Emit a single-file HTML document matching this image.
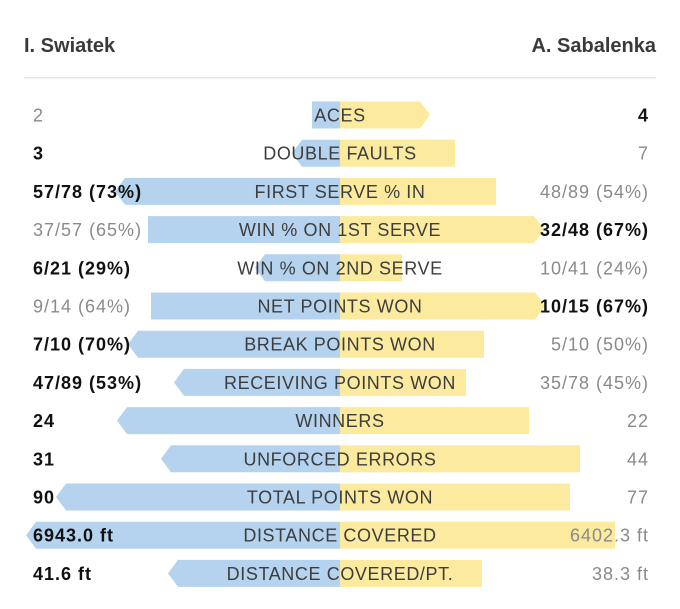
<!DOCTYPE html>
<html><head><meta charset="utf-8"><style>
html,body{margin:0;padding:0;background:#fff;}
svg{display:block;font-family:"Liberation Sans",sans-serif;}
</style></head><body>
<svg width="680" height="609" viewBox="0 0 680 609" xmlns="http://www.w3.org/2000/svg">
<text x="24" y="52" font-size="20" font-weight="bold" fill="#3a3a3a">I. Swiatek</text>
<text x="656" y="52" font-size="20" font-weight="bold" fill="#3a3a3a" text-anchor="end">A. Sabalenka</text>
<rect x="24" y="77" width="632" height="1.5" fill="#e6e6e6"/>
<g id="rows"></g>
</svg>
<script>
const rows=[
["2",0,"ACES","4",1,312,0,430,1],
["3",1,"DOUBLE FAULTS","7",0,292,1,455,0],
["57/78 (73%)",1,"FIRST SERVE % IN","48/89 (54%)",0,115,1,496,0],
["37/57 (65%)",0,"WIN % ON 1ST SERVE","32/48 (67%)",1,148,0,544,1],
["6/21 (29%)",1,"WIN % ON 2ND SERVE","10/41 (24%)",0,255,1,402,0],
["9/14 (64%)",0,"NET POINTS WON","10/15 (67%)",1,151,0,545,1],
["7/10 (70%)",1,"BREAK POINTS WON","5/10 (50%)",0,128,1,484,0],
["47/89 (53%)",1,"RECEIVING POINTS WON","35/78 (45%)",0,174,1,466,0],
["24",1,"WINNERS","22",0,117,1,529,0],
["31",1,"UNFORCED ERRORS","44",0,161,1,580,0],
["90",1,"TOTAL POINTS WON","77",0,56,1,570,0],
["6943.0 ft",1,"DISTANCE COVERED","6402.3 ft",0,26,1,615,0],
["41.6 ft",1,"DISTANCE COVERED/PT.","38.3 ft",0,168,1,482,0]];
let s="";const C=340,h=27,a=10;
rows.forEach((r,i)=>{const cy=115+i*38.2,t=cy-13.5,b=t+h;
 if(r[6]) s+=`<polygon points="${C},${t} ${r[5]+a},${t} ${r[5]},${cy} ${r[5]+a},${b} ${C},${b}" fill="#b5d3ee"/>`;
 else s+=`<rect x="${r[5]}" y="${t}" width="${C-r[5]}" height="${h}" fill="#b5d3ee"/>`;
 if(r[8]) s+=`<polygon points="${C},${t} ${r[7]-a},${t} ${r[7]},${cy} ${r[7]-a},${b} ${C},${b}" fill="#fcea9e"/>`;
 else s+=`<rect x="${C}" y="${t}" width="${r[7]-C}" height="${h}" fill="#fcea9e"/>`;
 const y=cy+6.5;
 s+=`<text x="340" y="${y}" font-size="18" letter-spacing="0.6" fill="#3d3d3d" text-anchor="middle">${r[2]}</text>`;
 s+=`<text x="33" y="${y}" font-size="18" letter-spacing="1" ${r[1]?'font-weight="bold" fill="#111"':'fill="#8a8a8a"'}>${r[0]}</text>`;
 s+=`<text x="649" y="${y}" font-size="18" letter-spacing="1" text-anchor="end" ${r[4]?'font-weight="bold" fill="#111"':'fill="#8a8a8a"'}>${r[3]}</text>`;
});
document.getElementById("rows").innerHTML=s;
</script>
</body></html>
